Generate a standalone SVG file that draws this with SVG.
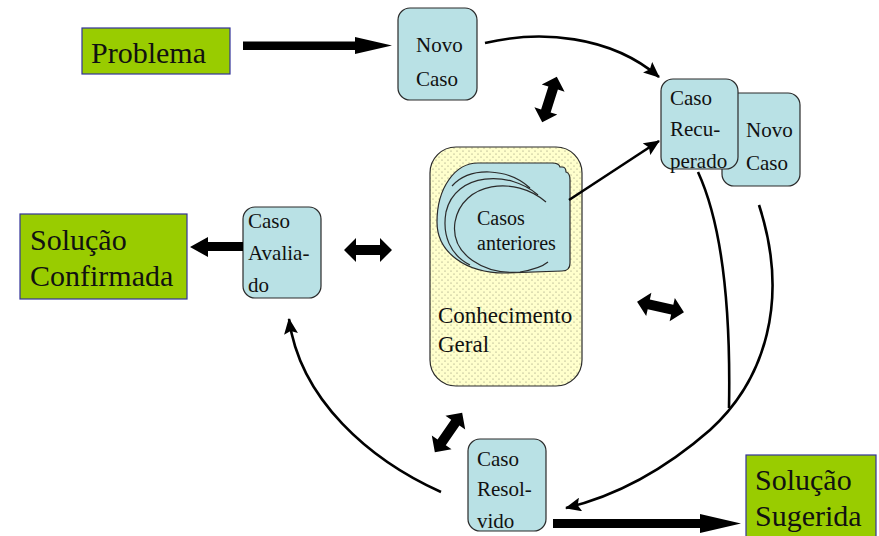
<svg xmlns="http://www.w3.org/2000/svg" width="879" height="536" viewBox="0 0 879 536" font-family="'Liberation Serif', 'DejaVu Serif', serif">
  <defs>
    <style>
      .case { fill: #b9e1e5; stroke: #2a2a2a; stroke-width: 1.2; }
      .goal { fill: #99cc00; stroke: #333399; stroke-width: 1.2; }
      text { font-family: 'Liberation Serif', 'DejaVu Serif', serif; fill: #111; }
      .t20 { font-size: 21px; }
      .t30 { font-size: 30px; }
      .t23 { font-size: 23px; }
      .curve { fill: none; stroke: #000; stroke-width: 2.6; }
      .fat { fill: #000; }
    </style>
    <pattern id="dots" width="6" height="6" patternUnits="userSpaceOnUse">
      <rect width="6" height="6" fill="#ffffcc"/>
      <circle cx="1" cy="1" r="0.6" fill="#8a8a70"/>
      <circle cx="4" cy="4" r="0.6" fill="#8a8a70"/>
    </pattern>
    <marker id="head" markerUnits="userSpaceOnUse" markerWidth="16" markerHeight="14" refX="15" refY="7" orient="auto">
      <path d="M0,0 L16,7 L0,14 L3,7 Z" fill="#000"/>
    </marker>
    <!-- two-headed block arrow, centred on the origin, pointing along x -->
    <path id="dbl" d="M-24,0 L-12,-12 L-12,-5 L12,-5 L12,-12 L24,0 L12,12 L12,5 L-12,5 L-12,12 Z"/>
  </defs>

  <!-- general knowledge store -->
  <g id="conhecimento">
    <rect x="430" y="147" width="152" height="239" rx="26" fill="url(#dots)" stroke="#2a2a2a" stroke-width="1.2"/>
    <text class="t23" x="438" y="323">Conhecimento</text>
    <text class="t23" x="438" y="352">Geral</text>
  </g>

  <!-- stack of past cases -->
  <g id="casos-anteriores">
    <path class="case" d="M478,163 L552,163 Q559,163 560,167 L562,167 Q566,167 566,172 Q570,173 570,180 L570,263 Q570,271 562,271 L505,273 C465,273 437,252 437,222 C437,188 455,163 478,163 Z"/>
    <path fill="none" stroke="#2a2a2a" stroke-width="1.2" d="M530,188 C508,168 470,166 452,186"/>
    <path class="case" d="M538,195 C510,170 455,172 446,212 C442,235 450,255 470,265"/>
    <path class="case" d="M546,202 C515,175 462,182 455,222 C450,255 485,275 520,272 C532,270 542,267 548,262"/>
    <text x="477" y="225" font-size="20">Casos</text>
    <text x="477" y="250" font-size="20">anteriores</text>
  </g>

  <g id="problema">
    <rect class="goal" x="82" y="28" width="148" height="46"/>
    <text class="t30" x="91" y="63">Problema</text>
  </g>

  <g id="novo-caso">
    <rect class="case" x="398" y="8" width="79" height="92" rx="12"/>
    <text class="t20" x="416" y="52">Novo</text>
    <text class="t20" x="416" y="86">Caso</text>
  </g>

  <g id="novo-caso-2">
    <rect class="case" x="722" y="93" width="78" height="93" rx="12"/>
    <text class="t20" x="746" y="137">Novo</text>
    <text class="t20" x="746" y="170">Caso</text>
  </g>

  <g id="caso-recuperado">
    <rect class="case" x="661" y="79" width="77" height="90" rx="12"/>
    <text class="t20" x="670" y="105">Caso</text>
    <text class="t20" x="670" y="136">Recu-</text>
    <text class="t20" x="670" y="168">perado</text>
  </g>

  <g id="caso-avaliado">
    <rect class="case" x="243" y="207" width="78" height="91" rx="12"/>
    <text class="t20" x="248" y="228">Caso</text>
    <text class="t20" x="248" y="260">Avalia-</text>
    <text class="t20" x="248" y="292">do</text>
  </g>

  <g id="solucao-confirmada">
    <rect class="goal" x="20" y="214" width="167" height="85"/>
    <text class="t30" x="30" y="250">Solução</text>
    <text class="t30" x="30" y="286">Confirmada</text>
  </g>

  <g id="caso-resolvido">
    <rect class="case" x="468" y="439" width="78" height="92" rx="12"/>
    <text class="t20" x="477" y="466">Caso</text>
    <text class="t20" x="477" y="496">Resol-</text>
    <text class="t20" x="477" y="528">vido</text>
  </g>

  <g id="solucao-sugerida">
    <rect class="goal" x="746" y="455" width="130" height="90"/>
    <text class="t30" x="755" y="490">Solução</text>
    <text class="t30" x="755" y="526">Sugerida</text>
  </g>

  <g id="connectors">
    <!-- block arrows -->
    <path class="fat" d="M243,41.5 L355,41.5 L355,37 L392,45.5 L355,54 L355,50 L243,50 Z"/>
    <path class="fat" d="M243,242 L208,242 L208,237 L190,247 L208,257 L208,251 L243,251 Z"/>
    <path class="fat" d="M553,519 L700,519 L700,514 L741,523.5 L700,533 L700,528 L553,528 Z"/>

    <!-- two-headed exchange arrows -->
    <use href="#dbl" class="fat" transform="translate(368,250)"/>
    <use href="#dbl" class="fat" transform="translate(549.5,99.5) rotate(107.7)"/>
    <use href="#dbl" class="fat" transform="translate(660.5,307) rotate(12.5)"/>
    <use href="#dbl" class="fat" transform="translate(448.5,432.5) rotate(124.7)"/>

    <!-- cycle curves -->
    <path class="curve" d="M485,43 C540,30 610,35 659,77" marker-end="url(#head)"/>
    <path class="curve" d="M569,200 L659,141" marker-end="url(#head)"/>
    <path class="curve" d="M698,172 C720,220 731,300 729,408"/>
    <path class="curve" d="M759,205 C790,300 765,380 710,430 C670,465 620,495 566,508" marker-end="url(#head)"/>
    <path class="curve" d="M441,492 C370,460 300,400 289,319" marker-end="url(#head)"/>
  </g>
</svg>
